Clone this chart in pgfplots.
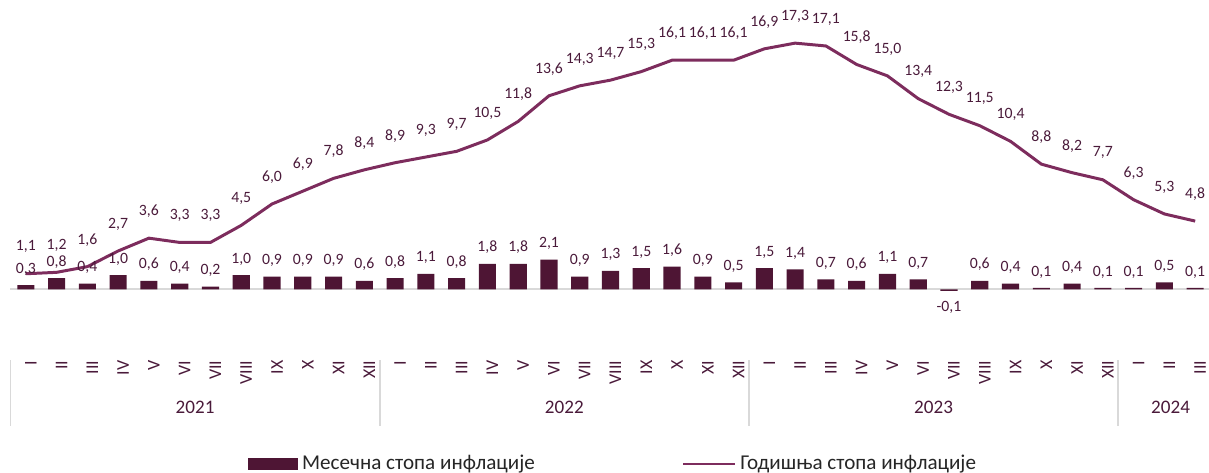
\documentclass[border=0pt]{standalone}
\usepackage{pgfplots}
\pgfplotsset{compat=1.18}
\usepackage{pgfplotstable}
\usepackage{fontspec}
\setmainfont{Carlito}
\definecolor{barcol}{HTML}{4E1534}
\definecolor{linecol}{HTML}{7D2C5D}
\definecolor{txtcol}{HTML}{4A1A3A}
\definecolor{sepcol}{HTML}{D9D9D9}

% idx, monthly (bars), yearly (line)
\pgfplotstableread{
idx m    y
0   0.3  1.1
1   0.8  1.2
2   0.4  1.6
3   1.0  2.7
4   0.6  3.6
5   0.4  3.3
6   0.2  3.3
7   1.0  4.5
8   0.9  6.0
9   0.9  6.9
10  0.9  7.8
11  0.6  8.4
12  0.8  8.9
13  1.1  9.3
14  0.8  9.7
15  1.8  10.5
16  1.8  11.8
17  2.1  13.6
18  0.9  14.3
19  1.3  14.7
20  1.5  15.3
21  1.6  16.1
22  0.9  16.1
23  0.5  16.1
24  1.5  16.9
25  1.4  17.3
26  0.7  17.1
27  0.6  15.8
28  1.1  15.0
29  0.7  13.4
30  -0.1 12.3
31  0.6  11.5
32  0.4  10.4
33  0.1  8.8
34  0.4  8.2
35  0.1  7.7
36  0.1  6.3
37  0.5  5.3
38  0.1  4.8
}\infl

\begin{document}
\begin{tikzpicture}
\begin{axis}[
    scale only axis,
    width=607.1pt, height=177.5pt,
    xmin=-0.84, xmax=38.45,
    ymin=-4.5, ymax=20.33,
    clip=false,
    axis line style={draw=none},
    major tick length=0pt,
    ytick=\empty,
    xtick={0,...,38},
    xticklabels={I,II,III,IV,V,VI,VII,VIII,IX,X,XI,XII,
                 I,II,III,IV,V,VI,VII,VIII,IX,X,XI,XII,
                 I,II,III,IV,V,VI,VII,VIII,IX,X,XI,XII,
                 I,II,III},
    xticklabel style={rotate=90, anchor=east, yshift=-2.5pt, font=\fontsize{9}{10}\selectfont, text=txtcol},
    /pgf/number format/.cd, use comma, fixed, fixed zerofill, precision=1, assume math mode=true,
    /pgfplots/.cd,
    legend columns=2,
    legend style={at={(0.508,-0.313)}, anchor=center, draw=none, fill=none,
        font=\fontsize{10.6}{12}\selectfont, text=black!85,
        /tikz/every even column/.append style={column sep=72pt}},
]
\draw[sepcol, line width=1pt] (axis cs:-0.5,0) -- (axis cs:38.45,0);

\addplot[ybar, bar width=8.6pt, bar shift=0pt, fill=barcol, draw=none,
    nodes near coords,
    every node near coord/.append style={font=\fontsize{7.9}{9}\selectfont, text=txtcol, inner ysep=4.8pt},
    legend image code/.code={\fill[barcol] (0pt,-3.2pt) rectangle (25pt,3.2pt);}]
    table[x=idx, y=m] {\infl};
\addlegendentry{Месечна стопа инфлације}

\addplot[linecol, line width=1.5pt, mark=none,
    nodes near coords,
    every node near coord/.style={font=\fontsize{7.9}{9}\selectfont, text=txtcol, anchor=center, yshift=13.5pt},
    legend image code/.code={\draw[linecol, line width=1.2pt] (0pt,0pt) -- (26pt,0pt);}]
    table[x=idx, y=y] {\infl};
\addlegendentry{Годишња стопа инфлације}

\foreach \s in {-0.5,11.5,23.5,35.5}{
  \edef\tmp{\noexpand\draw[sepcol, line width=0.8pt] (axis cs:\s,-4.97) -- (axis cs:\s,-9.58);}\tmp
}
\node[text=txtcol, font=\fontsize{9.6}{10}\selectfont] at (axis cs:5.5,-8.32) {2021};
\node[text=txtcol, font=\fontsize{9.6}{10}\selectfont] at (axis cs:17.5,-8.32) {2022};
\node[text=txtcol, font=\fontsize{9.6}{10}\selectfont] at (axis cs:29.5,-8.32) {2023};
\node[text=txtcol, font=\fontsize{9.6}{10}\selectfont] at (axis cs:37.2,-8.32) {2024};
\end{axis}
\pgfresetboundingbox
\path[use as bounding box] (current axis.north west) rectangle ([yshift=-60pt]current axis.south east);
\end{tikzpicture}
\end{document}
